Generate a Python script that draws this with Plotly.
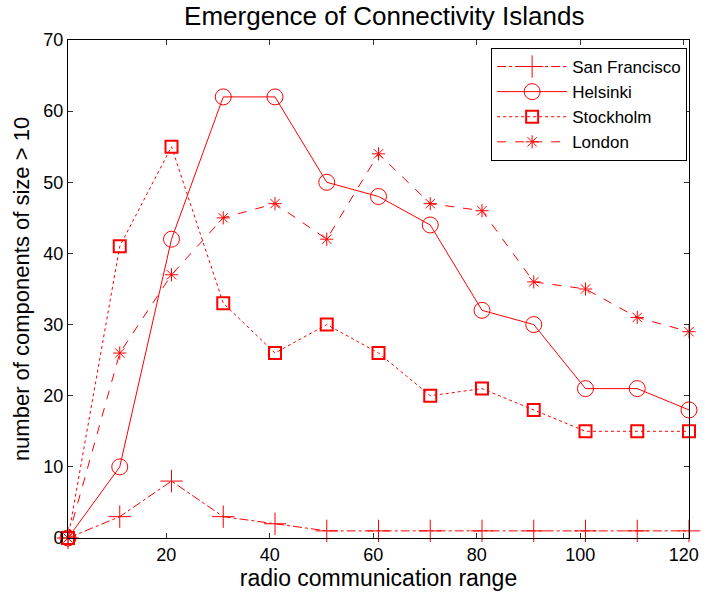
import plotly.graph_objects as go

x_range = [1, 11, 21, 31, 41, 51, 61, 71, 81, 91, 101, 111, 121]
san_francisco = [0, 3, 8, 3, 2, 1, 1, 1, 1, 1, 1, 1, 1]
helsinki = [0, 10, 42, 62, 62, 50, 48, 44, 32, 30, 21, 21, 18]
stockholm = [0, 41, 55, 33, 26, 30, 26, 20, 21, 18, 15, 15, 15]
london = [0, 26, 37, 45, 47, 42, 54, 47, 46, 36, 35, 31, 29]

red = "#ff0000"
fig = go.Figure()
fig.add_trace(go.Scatter(x=x_range, y=san_francisco, name="San Francisco", mode="lines+markers",
                         line=dict(color=red, width=1, dash="dashdot"),
                         marker=dict(symbol="cross-thin-open", size=16, line=dict(color=red, width=1)),
                         cliponaxis=False))
fig.add_trace(go.Scatter(x=x_range, y=helsinki, name="Helsinki", mode="lines+markers",
                         line=dict(color=red, width=1, dash="solid"),
                         marker=dict(symbol="circle-open", size=16, line=dict(color=red, width=1)),
                         cliponaxis=False))
fig.add_trace(go.Scatter(x=x_range, y=stockholm, name="Stockholm", mode="lines+markers",
                         line=dict(color=red, width=1, dash="dot"),
                         marker=dict(symbol="square-open", size=12, line=dict(color=red, width=2)),
                         cliponaxis=False))
fig.add_trace(go.Scatter(x=x_range, y=london, name="London", mode="lines+markers",
                         line=dict(color=red, width=1, dash="dash"),
                         marker=dict(symbol="asterisk-open", size=11, line=dict(color=red, width=1)),
                         cliponaxis=False))

font = "Liberation Sans, Arial, Helvetica, sans-serif"
fig.update_layout(
    width=709, height=596,
    margin=dict(l=68, r=10, t=40, b=58),
    paper_bgcolor="white", plot_bgcolor="white",
    font=dict(family=font, size=18, color="black"),
    title=dict(text="Emergence of Connectivity Islands", x=0.542, xanchor="center",
               y=1 - 16 / 596, yanchor="middle", font=dict(size=26)),
    showlegend=True,
    legend=dict(x=0.997, xanchor="right", y=0.984, yanchor="top",
                bordercolor="black", borderwidth=1, bgcolor="white",
                font=dict(size=17), tracegroupgap=0, itemwidth=70),
)
fig.update_xaxes(range=[1, 121], tickvals=[20, 40, 60, 80, 100, 120],
                 ticks="inside", ticklen=5, tickcolor="#333", showline=True, linecolor="black",
                 linewidth=1, mirror="ticks", showgrid=False, zeroline=False,
                 tickfont=dict(size=18),
                 title=dict(text="radio communication range", font=dict(size=23), standoff=3))
fig.update_yaxes(range=[0, 70], tickvals=[0, 10, 20, 30, 40, 50, 60, 70],
                 ticks="inside", ticklen=5, tickcolor="#333", showline=True, linecolor="black",
                 linewidth=1, mirror="ticks", showgrid=False, zeroline=False,
                 tickfont=dict(size=18),
                 title=dict(text="number of components of size > 10", font=dict(size=22), standoff=7))
fig.write_html("out.html")
